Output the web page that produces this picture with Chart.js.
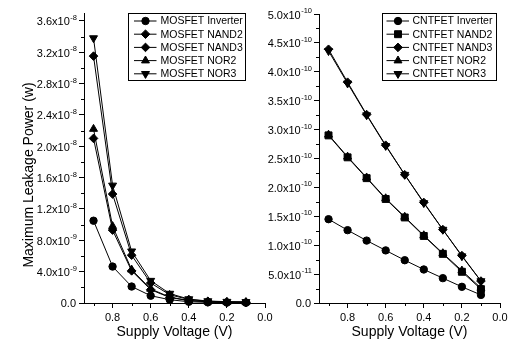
<!DOCTYPE html>
<html>
<head>
<meta charset="utf-8">
<script src="https://cdn.jsdelivr.net/npm/chart.js@4/dist/chart.umd.min.js"></script>
<style>
  html, body { margin: 0; padding: 0; background: #fff; }
  #wrap { position: relative; width: 512px; height: 347px; }
  canvas { position: absolute; left: 0; top: 0; }
</style>
</head>
<body>
<div id="wrap">
  <canvas id="mos" width="512" height="347"></canvas>
  <canvas id="cnt" width="512" height="347"></canvas>
</div>
<script>
// Supply voltage sweep (V)
const voltage = [0.9, 0.8, 0.7, 0.6, 0.5, 0.4, 0.3, 0.2, 0.1];

// MOSFET maximum leakage power (W)
const mosInverter = [1.05e-8, 4.65e-9, 2.1e-9, 9.3e-10, 4.2e-10, 1.6e-10, 8e-11, 5e-11, 4e-11];
const mosNand2    = [2.10e-8, 9.3e-9, 4.1e-9, 1.7e-9, 7.0e-10, 3.0e-10, 1.5e-10, 1.0e-10, 8e-11];
const mosNand3    = [3.15e-8, 1.39e-8, 6.1e-9, 2.55e-9, 1.05e-9, 4.5e-10, 2.2e-10, 1.5e-10, 1.2e-10];
const mosNor2     = [2.22e-8, 9.8e-9, 4.25e-9, 1.8e-9, 7.5e-10, 3.2e-10, 1.6e-10, 1.1e-10, 9e-11];
const mosNor3     = [3.38e-8, 1.50e-8, 6.6e-9, 2.85e-9, 1.2e-9, 5.0e-10, 2.5e-10, 1.7e-10, 1.4e-10];

// CNTFET maximum leakage power (W)
const cntInverter = [1.45e-10, 1.26e-10, 1.08e-10, 9.1e-11, 7.4e-11, 5.8e-11, 4.3e-11, 2.8e-11, 1.4e-11];
const cntNand2    = [2.90e-10, 2.52e-10, 2.16e-10, 1.80e-10, 1.48e-10, 1.16e-10, 8.5e-11, 5.4e-11, 2.4e-11];
const cntNand3    = [4.39e-10, 3.82e-10, 3.26e-10, 2.73e-10, 2.22e-10, 1.74e-10, 1.27e-10, 8.2e-11, 3.8e-11];
const cntNor2     = [2.91e-10, 2.53e-10, 2.17e-10, 1.81e-10, 1.49e-10, 1.17e-10, 8.6e-11, 5.6e-11, 2.6e-11];
const cntNor3     = [4.36e-10, 3.80e-10, 3.25e-10, 2.72e-10, 2.22e-10, 1.73e-10, 1.27e-10, 8.1e-11, 3.8e-11];

// Axis ticks
const xMajorTicks = [0, 0.2, 0.4, 0.6, 0.8];
const xMinorTicks = [0.1, 0.3, 0.5, 0.7, 0.9];
const mosYTicks = [0, 4e-9, 8e-9, 1.2e-8, 1.6e-8, 2.0e-8, 2.4e-8, 2.8e-8, 3.2e-8, 3.6e-8];
const mosYMinor = [2e-9, 6e-9, 1.0e-8, 1.4e-8, 1.8e-8, 2.2e-8, 2.6e-8, 3.0e-8, 3.4e-8];
const cntYTicks = [0, 5e-11, 1.0e-10, 1.5e-10, 2.0e-10, 2.5e-10, 3.0e-10, 3.5e-10, 4.0e-10, 4.5e-10, 5.0e-10];
const cntYMinor = [2.5e-11, 7.5e-11, 1.25e-10, 1.75e-10, 2.25e-10, 2.75e-10, 3.25e-10, 3.75e-10, 4.25e-10, 4.75e-10];

const FONT = '"Liberation Sans", Arial, sans-serif';

// Minor ticks, superscript y labels, y title and boxed legend
const decor = {
  id: 'decor',
  afterDraw(chart, args, opts) {
    const ctx = chart.ctx;
    const xs = chart.scales.x, ys = chart.scales.y;
    const area = chart.chartArea;
    ctx.save();
    ctx.strokeStyle = '#000';
    ctx.fillStyle = '#000';
    ctx.lineWidth = 1;

    ctx.beginPath();
    opts.minorX.forEach(v => {
      const px = Math.round(xs.getPixelForValue(v)) + 0.5;
      ctx.moveTo(px, area.bottom);
      ctx.lineTo(px, area.bottom + 3);
    });
    opts.minorY.forEach(v => {
      const py = Math.round(ys.getPixelForValue(v)) + 0.5;
      ctx.moveTo(area.left, py);
      ctx.lineTo(area.left - 3, py);
    });
    ctx.stroke();

    const right = area.left - 7;
    ctx.textAlign = 'right';
    ctx.textBaseline = 'middle';
    opts.majorY.forEach(v => {
      const py = ys.getPixelForValue(v);
      if (v === 0) {
        ctx.font = `11px ${FONT}`;
        ctx.fillText('0.0', right - 1, py + 1);
        return;
      }
      const parts = v.toExponential(1).split('e');
      const exp = String(parseInt(parts[1], 10));
      ctx.font = `7.5px ${FONT}`;
      const ew = ctx.measureText(exp).width;
      ctx.fillText(exp, right, py - 3);
      ctx.font = `11px ${FONT}`;
      ctx.fillText(parts[0] + 'x10', right - ew - 0.5, py + 1.5);
    });

    if (opts.yTitle) {
      ctx.save();
      ctx.translate(opts.yTitle.x, (area.top + area.bottom) / 2 + opts.yTitle.dy);
      ctx.rotate(-Math.PI / 2);
      ctx.textAlign = 'center';
      ctx.textBaseline = 'middle';
      ctx.font = `14px ${FONT}`;
      ctx.fillText(opts.yTitle.text, 0, 0);
      ctx.restore();
    }

    const lg = opts.legend;
    ctx.strokeRect(lg.left + 0.5, lg.top + 0.5, lg.width, lg.height);
    ctx.font = `10.5px ${FONT}`;
    ctx.textAlign = 'left';
    chart.data.datasets.forEach((ds, i) => {
      const y = lg.top + lg.firstRow + i * lg.rowGap;
      ctx.beginPath();
      ctx.moveTo(lg.left + lg.lineStart, y);
      ctx.lineTo(lg.left + lg.lineEnd, y);
      ctx.stroke();
      Chart.helpers.drawPoint(ctx, {
        pointStyle: ds.pointStyle,
        rotation: ds.pointRotation || 0,
        radius: ds.pointRadius,
        borderWidth: 1
      }, lg.left + lg.marker, y);
      ctx.fillText(ds.label, lg.left + lg.textStart, y + 0.5);
    });
    ctx.restore();
  }
};

function series(label, values, style, radius, rotation) {
  return {
    label,
    data: voltage.map((v, i) => ({ x: v, y: values[i] })),
    borderColor: '#000',
    backgroundColor: '#000',
    borderWidth: 1,
    pointStyle: style,
    pointRadius: radius,
    pointRotation: rotation || 0,
    pointBorderWidth: 1,
    pointBorderColor: '#000',
    pointBackgroundColor: '#000',
    clip: false,
    tension: 0
  };
}

function makeChart(id, datasets, cfg) {
  const tickGrid = { drawOnChartArea: false, drawTicks: true, tickLength: 5, tickColor: '#000', tickWidth: 1 };
  return new Chart(document.getElementById(id), {
    type: 'line',
    data: { datasets },
    options: {
      responsive: false,
      animation: false,
      devicePixelRatio: 1,
      events: [],
      layout: { padding: cfg.padding },
      scales: {
        x: {
          type: 'linear',
          reverse: true,
          min: 0,
          max: 0.95,
          afterBuildTicks: s => { s.ticks = xMajorTicks.map(v => ({ value: v })); },
          afterFit: s => { s.height = 44; },
          ticks: {
            autoSkip: false, maxRotation: 0, padding: 3, color: '#000',
            font: { family: FONT, size: 11 },
            callback: v => Number(v).toFixed(1)
          },
          grid: tickGrid,
          border: { display: true, color: '#000', width: 1 },
          title: {
            display: true, text: 'Supply Voltage (V)', color: '#000',
            font: { family: FONT, size: 14 }, padding: { top: 0, bottom: 6 }
          }
        },
        y: {
          type: 'linear',
          min: 0,
          max: cfg.yMax,
          afterBuildTicks: s => { s.ticks = cfg.yTicks.map(v => ({ value: v })); },
          afterFit: s => { s.width = cfg.yWidth; },
          ticks: { display: false },
          grid: tickGrid,
          border: { display: true, color: '#000', width: 1 }
        }
      },
      plugins: {
        legend: { display: false },
        tooltip: { enabled: false },
        decor: {
          minorX: xMinorTicks,
          minorY: cfg.yMinor,
          majorY: cfg.yTicks,
          yTitle: cfg.yTitle,
          legend: cfg.legend
        }
      }
    },
    plugins: [decor]
  });
}

makeChart('mos', [
  series('MOSFET Inverter', mosInverter, 'circle', 3.7),
  series('MOSFET NAND2', mosNand2, 'rectRot', 4.3),
  series('MOSFET NAND3', mosNand3, 'rectRot', 4.3),
  series('MOSFET NOR2', mosNor2, 'triangle', 4.6),
  series('MOSFET NOR3', mosNor3, 'triangle', 4.6, 180)
], {
  padding: { left: 0, right: 247, top: 13, bottom: 0 },
  yMax: 3.7e-8,
  yWidth: 84,
  yTicks: mosYTicks,
  yMinor: mosYMinor,
  yTitle: { text: 'Maximum Leakage Power (w)', x: 29, dy: 17 },
  legend: { left: 128, top: 13, width: 117, height: 67, firstRow: 8, rowGap: 13.2,
            lineStart: 6, lineEnd: 28.5, marker: 17.5, textStart: 32.5 }
});

makeChart('cnt', [
  series('CNTFET Inverter', cntInverter, 'circle', 3.7),
  series('CNTFET NAND2', cntNand2, 'rect', 4.9),
  series('CNTFET NAND3', cntNand3, 'rectRot', 4.3),
  series('CNTFET NOR2', cntNor2, 'triangle', 4.6),
  series('CNTFET NOR3', cntNor3, 'triangle', 4.6, 180)
], {
  padding: { left: 270, right: 12, top: 14, bottom: 0 },
  yMax: 5e-10,
  yWidth: 49,
  yTicks: cntYTicks,
  yMinor: cntYMinor,
  yTitle: null,
  legend: { left: 382, top: 13, width: 114, height: 67, firstRow: 8, rowGap: 13.2,
            lineStart: 4.5, lineEnd: 27, marker: 16, textStart: 30.5 }
});
</script>
</body>
</html>
